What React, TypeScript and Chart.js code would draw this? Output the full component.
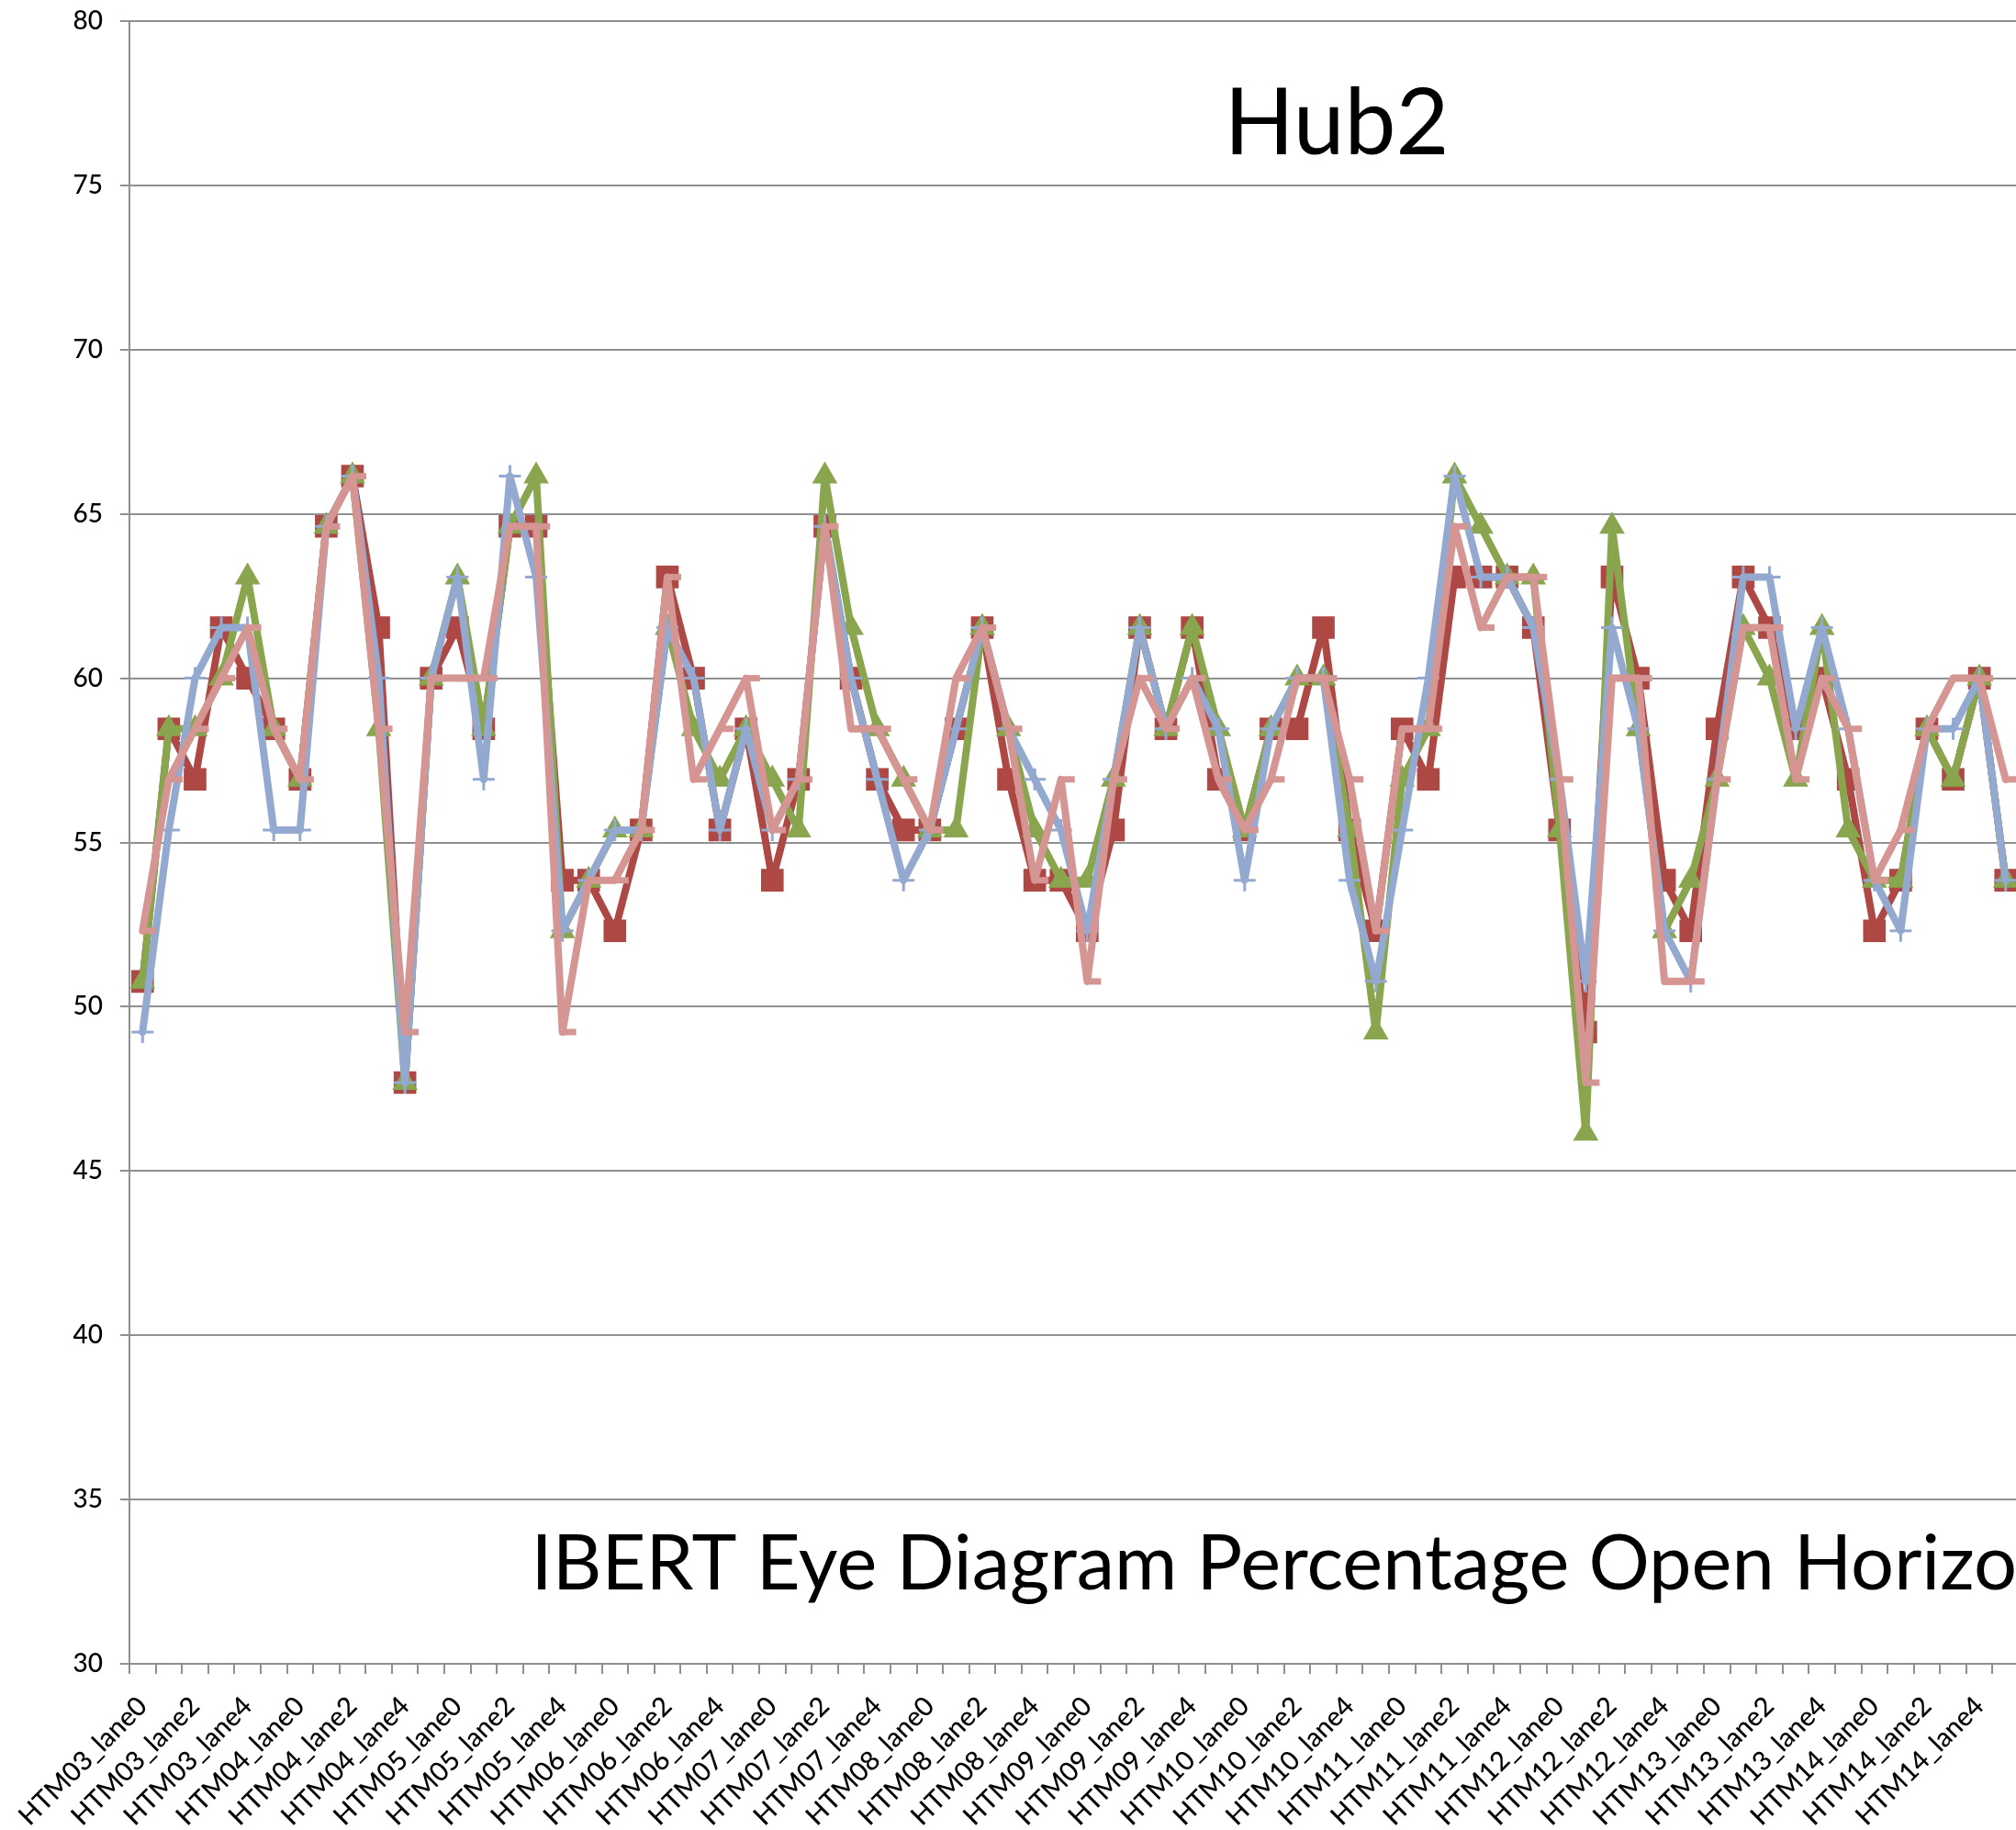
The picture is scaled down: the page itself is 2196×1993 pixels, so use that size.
import { useEffect, useRef } from 'react';
import { Chart, registerables } from 'chart.js';

Chart.register(...registerables);

const TITLE = 'Hub2';
const SUBTITLE = 'IBERT Eye Diagram Percentage Open Horizontal';

const categories = [
  'HTM03_lane0', 'HTM03_lane1', 'HTM03_lane2', 'HTM03_lane3', 'HTM03_lane4', 'HTM03_lane5',
  'HTM04_lane0', 'HTM04_lane1', 'HTM04_lane2', 'HTM04_lane3', 'HTM04_lane4', 'HTM04_lane5',
  'HTM05_lane0', 'HTM05_lane1', 'HTM05_lane2', 'HTM05_lane3', 'HTM05_lane4', 'HTM05_lane5',
  'HTM06_lane0', 'HTM06_lane1', 'HTM06_lane2', 'HTM06_lane3', 'HTM06_lane4', 'HTM06_lane5',
  'HTM07_lane0', 'HTM07_lane1', 'HTM07_lane2', 'HTM07_lane3', 'HTM07_lane4', 'HTM07_lane5',
  'HTM08_lane0', 'HTM08_lane1', 'HTM08_lane2', 'HTM08_lane3', 'HTM08_lane4', 'HTM08_lane5',
  'HTM09_lane0', 'HTM09_lane1', 'HTM09_lane2', 'HTM09_lane3', 'HTM09_lane4', 'HTM09_lane5',
  'HTM10_lane0', 'HTM10_lane1', 'HTM10_lane2', 'HTM10_lane3', 'HTM10_lane4', 'HTM10_lane5',
  'HTM11_lane0', 'HTM11_lane1', 'HTM11_lane2', 'HTM11_lane3', 'HTM11_lane4', 'HTM11_lane5',
  'HTM12_lane0', 'HTM12_lane1', 'HTM12_lane2', 'HTM12_lane3', 'HTM12_lane4', 'HTM12_lane5',
  'HTM13_lane0', 'HTM13_lane1', 'HTM13_lane2', 'HTM13_lane3', 'HTM13_lane4', 'HTM13_lane5',
  'HTM14_lane0', 'HTM14_lane1', 'HTM14_lane2', 'HTM14_lane3', 'HTM14_lane4', 'HTM14_lane5',
];

const redSeries = [
  50.77, 58.46, 56.92, 61.54, 60.0, 58.46,
  56.92, 64.62, 66.15, 61.54, 47.69, 60.0,
  61.54, 58.46, 64.62, 64.62, 53.85, 53.85,
  52.31, 55.38, 63.08, 60.0, 55.38, 58.46,
  53.85, 56.92, 64.62, 60.0, 56.92, 55.38,
  55.38, 58.46, 61.54, 56.92, 53.85, 53.85,
  52.31, 55.38, 61.54, 58.46, 61.54, 56.92,
  55.38, 58.46, 58.46, 61.54, 55.38, 52.31,
  58.46, 56.92, 63.08, 63.08, 63.08, 61.54,
  55.38, 49.23, 63.08, 60.0, 53.85, 52.31,
  58.46, 63.08, 61.54, 58.46, 60.0, 56.92,
  52.31, 53.85, 58.46, 56.92, 60.0, 53.85,
];

const greenSeries = [
  50.77, 58.46, 58.46, 60.0, 63.08, 58.46,
  56.92, 64.62, 66.15, 58.46, 47.69, 60.0,
  63.08, 58.46, 64.62, 66.15, 52.31, 53.85,
  55.38, 55.38, 61.54, 58.46, 56.92, 58.46,
  56.92, 55.38, 66.15, 61.54, 58.46, 56.92,
  55.38, 55.38, 61.54, 58.46, 55.38, 53.85,
  53.85, 56.92, 61.54, 58.46, 61.54, 58.46,
  55.38, 58.46, 60.0, 60.0, 55.38, 49.23,
  56.92, 58.46, 66.15, 64.62, 63.08, 63.08,
  55.38, 46.15, 64.62, 58.46, 52.31, 53.85,
  56.92, 61.54, 60.0, 56.92, 61.54, 55.38,
  53.85, 53.85, 58.46, 56.92, 60.0, 53.85,
];

const blueSeries = [
  49.23, 55.38, 60.0, 61.54, 61.54, 55.38,
  55.38, 64.62, 66.15, 60.0, 47.69, 60.0,
  63.08, 56.92, 66.15, 63.08, 52.31, 53.85,
  55.38, 55.38, 61.54, 60.0, 55.38, 58.46,
  55.38, 56.92, 64.62, 60.0, 56.92, 53.85,
  55.38, 58.46, 61.54, 58.46, 56.92, 55.38,
  52.31, 56.92, 61.54, 58.46, 60.0, 58.46,
  53.85, 58.46, 60.0, 60.0, 53.85, 50.77,
  55.38, 60.0, 66.15, 63.08, 63.08, 61.54,
  56.92, 50.77, 61.54, 58.46, 52.31, 50.77,
  56.92, 63.08, 63.08, 58.46, 61.54, 58.46,
  53.85, 52.31, 58.46, 58.46, 60.0, 53.85,
];

const pinkSeries = [
  52.31, 56.92, 58.46, 60.0, 61.54, 58.46,
  56.92, 64.62, 66.15, 58.46, 49.23, 60.0,
  60.0, 60.0, 64.62, 64.62, 49.23, 53.85,
  53.85, 55.38, 63.08, 56.92, 58.46, 60.0,
  55.38, 56.92, 64.62, 58.46, 58.46, 56.92,
  55.38, 60.0, 61.54, 58.46, 53.85, 56.92,
  50.77, 56.92, 60.0, 58.46, 60.0, 56.92,
  55.38, 56.92, 60.0, 60.0, 56.92, 52.31,
  58.46, 58.46, 64.62, 61.54, 63.08, 63.08,
  56.92, 47.69, 60.0, 60.0, 50.77, 50.77,
  56.92, 61.54, 61.54, 56.92, 60.0, 58.46,
  53.85, 55.38, 58.46, 60.0, 60.0, 56.92,
];

const yTicks = { min: 30, max: 80, step: 5 };

const RED = '#AE4845';
const GREEN = '#89A54E';
const BLUE = '#93A9CF';
const PINK = '#D49593';
const GRID = '#909090';
const FONT = 'Lato, "DejaVu Sans", sans-serif';

const CANVAS_W = 2912;
const CANVAS_H = 1993;
const PLOT_LEFT = 141;
const PLOT_RIGHT = 2199;
const PLOT_TOP = 23;
const PLOT_BOTTOM = 1812;

export default function App() {
  const ref = useRef<HTMLCanvasElement | null>(null);

  useEffect(() => {
    if (!ref.current) return;

    const dash = document.createElement('canvas');
    dash.width = 32;
    dash.height = 9;
    const dctx = dash.getContext('2d');
    if (dctx) {
      dctx.fillStyle = PINK;
      dctx.fillRect(15, 1, 16, 7);
    }

    const overlayTitles = {
      id: 'overlayTitles',
      afterDraw(chart: any) {
        const { ctx, width } = chart;
        ctx.save();
        ctx.fillStyle = '#000000';
        ctx.textAlign = 'center';
        ctx.textBaseline = 'alphabetic';
        ctx.font = `100px ${FONT}`;
        ctx.fillText(TITLE, width / 2, 168);
        ctx.font = `83px ${FONT}`;
        ctx.fillText(SUBTITLE, width / 2, 1731);
        ctx.restore();
      },
    };

    const common = {
      borderWidth: 8,
      tension: 0,
      borderJoinStyle: 'round',
      borderCapStyle: 'round',
      pointBorderWidth: 2,
      fill: false,
    };

    const chart = new Chart(ref.current, {
      type: 'line',
      data: {
        labels: categories,
        datasets: [
          {
            ...common,
            label: 'Series 1',
            data: redSeries,
            borderColor: RED,
            backgroundColor: RED,
            pointBackgroundColor: RED,
            pointBorderColor: RED,
            pointStyle: 'rect',
            pointRadius: 16,
            order: 4,
          },
          {
            ...common,
            label: 'Series 2',
            data: greenSeries,
            borderColor: GREEN,
            backgroundColor: GREEN,
            pointBackgroundColor: GREEN,
            pointBorderColor: GREEN,
            pointStyle: 'triangle',
            pointRadius: 14,
            order: 3,
          },
          {
            ...common,
            label: 'Series 3',
            data: blueSeries,
            borderColor: BLUE,
            backgroundColor: BLUE,
            pointBackgroundColor: BLUE,
            pointBorderColor: BLUE,
            pointStyle: 'cross',
            pointRadius: 12,
            pointBorderWidth: 3,
            order: 2,
          },
          {
            ...common,
            label: 'Series 4',
            data: pinkSeries,
            borderColor: PINK,
            backgroundColor: PINK,
            pointBackgroundColor: PINK,
            pointBorderColor: PINK,
            pointStyle: dash,
            pointRadius: 8,
            order: 1,
          },
        ] as any,
      },
      options: {
        responsive: false,
        animation: false,
        events: [],
        layout: {
          padding: {
            left: 0,
            top: PLOT_TOP,
            right: CANVAS_W - PLOT_RIGHT,
            bottom: 0,
          },
        },
        plugins: {
          legend: { display: false },
          title: { display: false },
          tooltip: { enabled: false },
        },
        scales: {
          x: {
            type: 'category',
            offset: true,
            afterFit: (axis: any) => {
              axis.height = CANVAS_H - PLOT_BOTTOM;
              axis.paddingLeft = 0;
              axis.paddingRight = 0;
            },
            grid: {
              display: true,
              drawOnChartArea: false,
              drawTicks: true,
              tickLength: 11,
              offset: true,
              color: GRID,
              lineWidth: 2,
            },
            border: { display: true, color: GRID, width: 2 },
            ticks: {
              autoSkip: false,
              maxRotation: 45,
              minRotation: 45,
              padding: 18,
              color: '#000000',
              font: { family: FONT, size: 29, weight: '500' },
              callback: (_v: any, idx: number) => (idx % 2 === 0 ? categories[idx] : ''),
            },
          },
          y: {
            type: 'linear',
            min: yTicks.min,
            max: yTicks.max,
            afterFit: (axis: any) => {
              axis.width = PLOT_LEFT;
              axis.paddingTop = 0;
              axis.paddingBottom = 0;
            },
            grid: {
              color: GRID,
              lineWidth: 2,
              drawTicks: true,
              tickLength: 10,
            },
            border: { display: true, color: GRID, width: 2 },
            ticks: {
              stepSize: yTicks.step,
              padding: 19,
              color: '#000000',
              font: { family: FONT, size: 28, weight: '500' },
            },
          },
        },
      } as any,
      plugins: [overlayTitles],
    });

    return () => chart.destroy();
  }, []);

  return (
    <div
      style={{
        position: 'absolute',
        left: 0,
        top: 0,
        width: 2196,
        height: 1993,
        overflow: 'hidden',
        background: '#ffffff',
      }}
    >
      <canvas
        ref={ref}
        width={CANVAS_W}
        height={CANVAS_H}
        style={{ width: CANVAS_W, height: CANVAS_H, display: 'block' }}
      />
    </div>
  );
}
